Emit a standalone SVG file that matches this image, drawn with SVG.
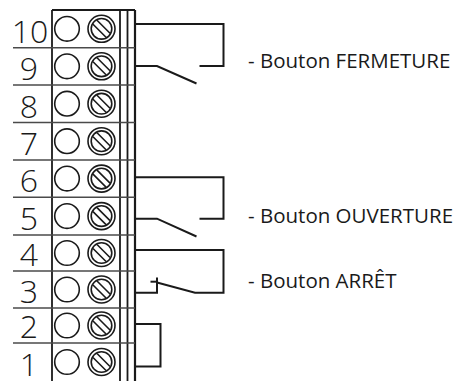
<svg xmlns="http://www.w3.org/2000/svg" width="464" height="381" viewBox="0 0 464 381">
<style>
.b{fill:none;stroke:#1a1a1a;stroke-width:1.8}
.d{fill:none;stroke:#4a4a4a;stroke-width:1.5}
.w{fill:none;stroke:#1a1a1a;stroke-width:2}
.c{fill:#fff;stroke:#1a1a1a;stroke-width:1.6}
.n{font-family:"Open Sans","Liberation Sans",sans-serif;font-weight:300;font-size:32px;fill:#1a1a1a;text-anchor:middle}
.l{font-family:"Open Sans","Liberation Sans",sans-serif;font-size:20.5px;fill:#1a1a1a}
</style>
<defs>
<g id="screw">
<circle r="13.5" class="c"/>
<circle r="10.3" class="c"/>
<line x1="-8.5" y1="-4.5" x2="4.5" y2="8.5" class="c"/>
<line x1="-4.5" y1="-8.5" x2="8.5" y2="4.5" class="c"/>
</g>
<circle id="hole" r="12.3" class="c"/>
</defs>
<g id="block">
<line x1="52" y1="10" x2="135" y2="10" class="b"/>
<line x1="52" y1="10" x2="52" y2="381" class="b"/>
<line x1="120" y1="10" x2="120" y2="381" class="b"/>
<line x1="127.5" y1="10" x2="127.5" y2="381" class="b"/>
<line x1="135" y1="10" x2="135" y2="381" class="b" style="stroke-width:2.2"/>
<line x1="13" y1="47.7" x2="135" y2="47.7" class="d"/>
<line x1="13" y1="85" x2="135" y2="85" class="d"/>
<line x1="13" y1="122.5" x2="135" y2="122.5" class="d"/>
<line x1="13" y1="160" x2="135" y2="160" class="d"/>
<line x1="13" y1="197.3" x2="135" y2="197.3" class="d"/>
<line x1="13" y1="235" x2="135" y2="235" class="d"/>
<line x1="13" y1="271" x2="135" y2="271" class="d"/>
<line x1="13" y1="308" x2="135" y2="308" class="d"/>
<line x1="13" y1="343" x2="135" y2="343" class="d"/>
</g>
<g id="t10"><text x="30" y="42.7" class="n">10</text><use href="#hole" x="67" y="28.8"/><use href="#screw" x="101.5" y="28.8"/></g>
<g id="t9"><text x="29" y="80" class="n">9</text><use href="#hole" x="67" y="66.3"/><use href="#screw" x="101.5" y="66.3"/></g>
<g id="t8"><text x="29" y="117.5" class="n">8</text><use href="#hole" x="67" y="103.7"/><use href="#screw" x="101.5" y="103.7"/></g>
<g id="t7"><text x="29" y="155" class="n">7</text><use href="#hole" x="67" y="141.2"/><use href="#screw" x="101.5" y="141.2"/></g>
<g id="t6"><text x="29" y="192.3" class="n">6</text><use href="#hole" x="67" y="178.6"/><use href="#screw" x="101.5" y="178.6"/></g>
<g id="t5"><text x="29" y="230" class="n">5</text><use href="#hole" x="67" y="216.1"/><use href="#screw" x="101.5" y="216.1"/></g>
<g id="t4"><text x="29" y="266" class="n">4</text><use href="#hole" x="67" y="253"/><use href="#screw" x="101.5" y="253"/></g>
<g id="t3"><text x="29" y="303" class="n">3</text><use href="#hole" x="67" y="289.5"/><use href="#screw" x="101.5" y="289.5"/></g>
<g id="t2"><text x="29" y="338" class="n">2</text><use href="#hole" x="67" y="325.5"/><use href="#screw" x="101.5" y="325.5"/></g>
<g id="t1"><text x="29" y="376" class="n">1</text><use href="#hole" x="67" y="362"/><use href="#screw" x="101.5" y="362"/></g>
<g id="connectors">
<polyline points="135,24 223.5,24 223.5,66 199.5,66" class="w"/>
<polyline points="135,66 157,66 196.5,83.5" class="w"/>
<polyline points="135,177.3 223.5,177.3 223.5,218.7 199.5,218.7" class="w"/>
<polyline points="135,218.7 157,218.7 196.5,236.5" class="w"/>
<polyline points="135,250 223.5,250 223.5,292.7 195,292.7 157,282.5" class="w"/>
<polyline points="135,292.7 157,292.7 157,277.5" class="w"/>
<line x1="150.5" y1="281.7" x2="157" y2="281.7" class="w"/>
<polyline points="135,324 160.5,324 160.5,366.5 135,366.5" class="w"/>
</g>
<g id="labels">
<text x="248" y="68.3" class="l">- Bouton FERMETURE</text>
<text x="248" y="223.3" class="l">- Bouton OUVERTURE</text>
<text x="248" y="288.3" class="l">- Bouton ARRÊT</text>
</g>
</svg>
